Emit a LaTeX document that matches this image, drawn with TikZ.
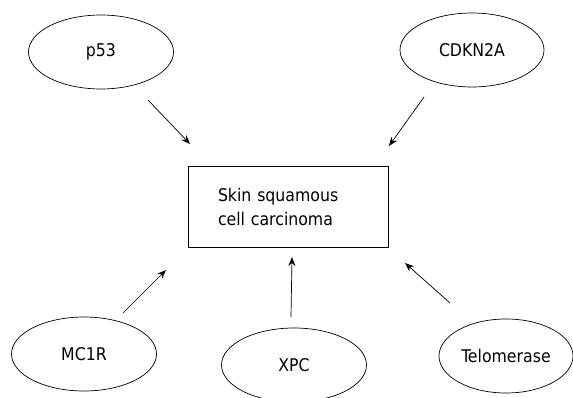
\documentclass[tikz,border=0pt]{standalone}
\usepackage{fontspec}
\setmainfont{DejaVu Sans Condensed}
\usetikzlibrary{shapes.geometric,arrows.meta}

\tikzset{
    gene/.style={draw, ellipse, line width=0.7pt, inner sep=0pt, minimum width=145pt, minimum height=74pt, font=\fontsize{17.5}{24}\selectfont},
    disease/.style={draw, rectangle, line width=0.7pt, inner xsep=30pt, inner ysep=0pt, text width=140pt, minimum height=81pt, align=left, font=\fontsize{17.5}{24}\selectfont},
    effect/.style={line width=0.7pt, -{Stealth[length=9pt,width=7pt]}}
}

\begin{document}
\begin{tikzpicture}[x=1pt, y=-1pt]
        \clip (0,0) rectangle (573,398);

        \node[disease] (scc) at (288,206.5) {Skin squamous\\cell carcinoma};

        \node[gene] (p53) at (101,52) {p53};
        \node[gene, minimum width=144pt] (cdkn) at (472,50) {CDKN2A};
        \node[gene] (mc1r) at (84,354) {MC1R};
        \node[gene] (xpc) at (294,365) {XPC};
        \node[gene, minimum width=134pt] (telo) at (506,356) {Telomerase};

        \coordinate (p53a) at (148,100);
        \coordinate (p53b) at (190,144);
        \coordinate (cdkna) at (424,97);
        \coordinate (cdknb) at (389,146);
        \coordinate (mc1ra) at (123,313);
        \coordinate (mc1rb) at (166,270);
        \coordinate (xpca) at (291,317);
        \coordinate (xpcb) at (292,257);
        \coordinate (teloa) at (450,303);
        \coordinate (telob) at (405,263);

        \draw[effect] (p53a) -- (p53b);
        \draw[effect] (cdkna) -- (cdknb);
        \draw[effect] (mc1ra) -- (mc1rb);
        \draw[effect] (xpca) -- (xpcb);
        \draw[effect] (teloa) -- (telob);
\end{tikzpicture}
\end{document}
